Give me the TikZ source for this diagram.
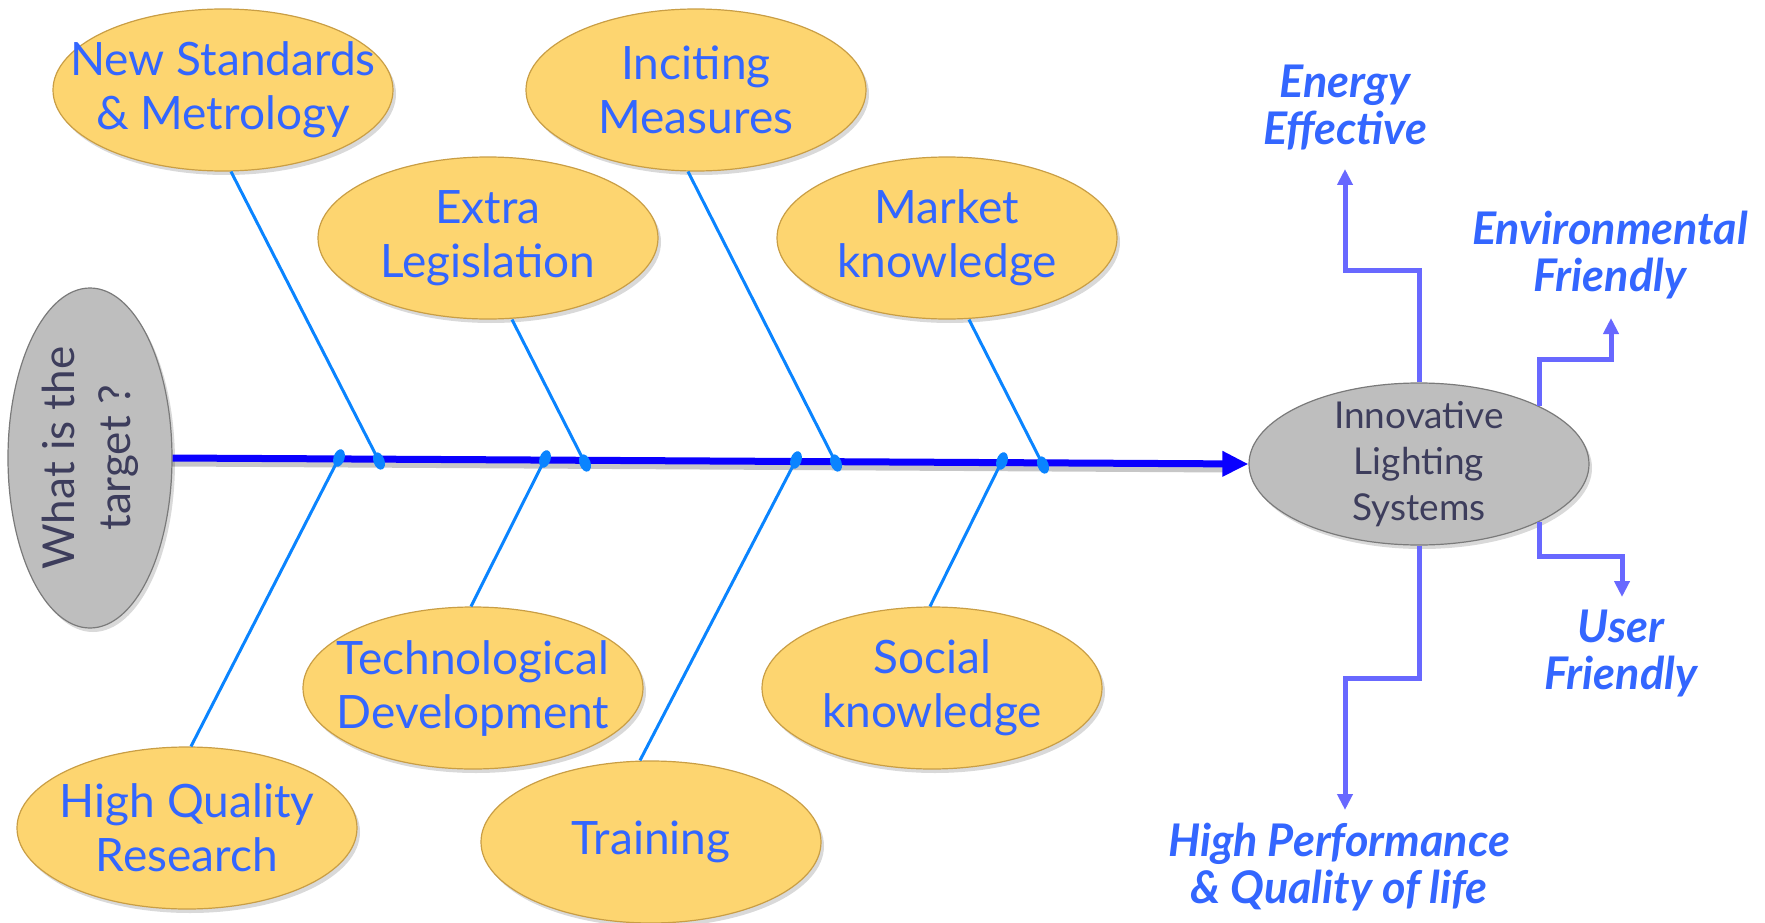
\documentclass[tikz,border=0pt]{standalone}
\usepackage{fontspec}
\setmainfont{Lato}
\usetikzlibrary{shapes.geometric,arrows.meta,shadows}
\definecolor{yel}{HTML}{FDD570}
\definecolor{yelD}{HTML}{C99E45}
\definecolor{txtb}{HTML}{3366FF}
\definecolor{gry}{HTML}{BEBEBE}
\definecolor{gryD}{HTML}{7A7A7A}
\definecolor{slate}{HTML}{3D3D5C}
\definecolor{bonec}{HTML}{0A84FF}
\definecolor{spinec}{HTML}{0A00FF}
\definecolor{outc}{HTML}{6868FF}
\begin{document}
\begin{tikzpicture}[x=1pt,y=-1pt,
  cause/.style={ellipse, minimum width=340pt, minimum height=162pt, inner sep=0pt,
    fill=yel, draw=yelD, line width=1.2pt,
    drop shadow={shadow xshift=3pt, shadow yshift=-4pt, opacity=0.3}},
  ctext/.style={inner sep=0pt, text=txtb, align=center, font=\fontsize{46}{54}\selectfont},
  grayell/.style={ellipse, inner sep=0pt, fill=gry,
    draw=gryD, line width=1.2pt,
    drop shadow={shadow xshift=3pt, shadow yshift=-4pt, opacity=0.3}},
  gtext/.style={inner sep=0pt, text=slate, align=center},
  bone/.style={draw=bonec, line width=3pt},
  bonedot/.style={fill=bonec},
  spine/.style={draw=spinec, line width=7pt, -{Triangle[length=26pt,width=24pt]}},
  outarr/.style={draw=outc, line width=5pt, -{Triangle[length=16pt,width=15pt]}},
  effect/.style={text=txtb, align=center, font=\fontsize{45}{47}\selectfont\bfseries\itshape}
]
\useasboundingbox (0,0) rectangle (1765,923);

% cause ellipses
\node[cause] (ns) at (223,90) {};
\node[cause] (im) at (696,90) {};
\node[cause] (el) at (488,238) {};
\node[cause] (mk) at (947,238) {};
\node[cause] (td) at (473,688) {};
\node[cause] (sk) at (932,688) {};
\node[cause] (hq) at (187,828) {};
\node[cause] (tr) at (651,842) {};
\node[ctext] (ns-t) at (ns.center) {New Standards\\\& Metrology};
\node[ctext] (im-t) at (im.center) {Inciting\\Measures};
\node[ctext] (el-t) at (el.center) {Extra\\Legislation};
\node[ctext] (mk-t) at (mk.center) {Market\\knowledge};
\node[ctext] (td-t) at (td.center) {Technological\\Development};
\node[ctext] (sk-t) at (sk.center) {Social\\knowledge};
\node[ctext] (hq-t) at (hq.center) {High Quality\\Research};
\node[ctext] (tr-t) at (tr.center) {Training};

% head and tail
\node[grayell, minimum width=340pt, minimum height=164pt, rotate=90] (tgt) at (90,458) {};
\node[gtext, rotate=90, font=\fontsize{44}{56}\selectfont] (tgt-t) at (tgt.center) {What is the\\target ?};
\node[grayell, minimum width=340pt, minimum height=162pt] (ils) at (1419,464) {};
\node[gtext, font=\fontsize{37}{46}\selectfont] (ils-t) at (ils.center) {Innovative\\Lighting\\Systems};

% spine
\draw[black, opacity=0.22, line width=7pt] ([yshift=-5pt]tgt.south) -- ([yshift=-5pt,xshift=-20pt]ils.west);
\draw[spine] (tgt.south) -- (ils.west);

% junctions on spine
\coordinate (j1) at (379,461);
\coordinate (j2) at (585,463);
\coordinate (j3) at (836,463);
\coordinate (j4) at (1043,465);
\coordinate (k1) at (339,458);
\coordinate (k2) at (545,459);
\coordinate (k3) at (796,460);
\coordinate (k4) at (1002,461);

% bones
\draw[bone] ([xshift=8pt]ns.south) -- (j1);
\draw[bone] ([xshift=24pt]el.south) -- (j2);
\draw[bone] ([xshift=-8pt]im.south) -- (j3);
\draw[bone] ([xshift=22pt]mk.south) -- (j4);
\draw[bone] (k1) -- ([xshift=4pt]hq.north);
\draw[bone] (k2) -- ([xshift=-2pt]td.north);
\draw[bone] (k3) -- ([xshift=-11pt]tr.north);
\draw[bone] (k4) -- ([xshift=-2pt]sk.north);

\foreach \p in {j1,j2,j3,j4}{\fill[bonedot] (\p) ellipse [x radius=5.5pt, y radius=9pt, rotate=20];}
\foreach \p in {k1,k2,k3,k4}{\fill[bonedot] (\p) ellipse [x radius=5.5pt, y radius=9pt, rotate=-18];}

% effects
\node[effect] (ee) at (1345,108) {Energy\\Effective};
\node[effect] (ef) at (1610,255) {Environmental\\Friendly};
\node[effect] (uf) at (1621,653) {User\\Friendly};
\node[effect] (hp) at (1339,867) {High Performance\\\& Quality of life};

\coordinate (eetip) at (1345,169);
\coordinate (eftip) at (1611,318);
\coordinate (uftip) at (1622,597);
\coordinate (hptip) at (1345,810);

\draw[outarr] (ils.north) -- ++(0,-112) -| (eetip);
\draw[outarr] (ils.north east) -- ++(0,-47) -| (eftip);
\draw[outarr] (ils.south east) -- ++(0,35) -| (uftip);
\draw[outarr] (ils.south) -- ++(0,133) -| (hptip);
\end{tikzpicture}
\end{document}
